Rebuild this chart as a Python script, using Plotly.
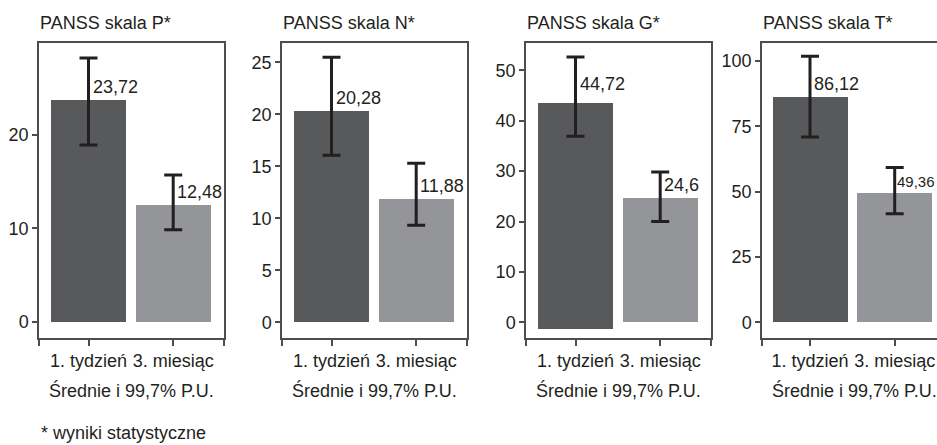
import plotly.graph_objects as go

# ---------------- data ----------------
titles = ["PANSS skala P*", "PANSS skala N*", "PANSS skala G*", "PANSS skala T*"]
categories = ["1. tydzień", "3. miesiąc"]
axis_title = "Średnie i 99,7% P.U."
footnote = "* wyniki statystyczne"

means_P = [23.72, 12.48]
means_N = [20.28, 11.88]
means_G = [44.72, 24.6]
means_T = [86.12, 49.36]

ci_low_P = [18.9, 9.85]
ci_high_P = [28.2, 15.7]
ci_low_N = [16.06, 9.33]
ci_high_N = [25.5, 15.3]
ci_low_G = [36.9, 20.0]
ci_high_G = [52.6, 29.8]
ci_low_T = [70.9, 41.6]
ci_high_T = [101.8, 59.3]

yticks_P = [0, 10, 20]
yticks_N = [0, 5, 10, 15, 20, 25]
yticks_G = [0, 10, 20, 30, 40, 50]
yticks_T = [0, 25, 50, 75, 100]

means = [means_P, means_N, means_G, means_T]
ci_low = [ci_low_P, ci_low_N, ci_low_G, ci_low_T]
ci_high = [ci_high_P, ci_high_N, ci_high_G, ci_high_T]
yticks = [yticks_P, yticks_N, yticks_G, yticks_T]

# ---------------- style / layout ----------------
W, H = 937, 445
FONT = "Liberation Sans, Arial, sans-serif"
TXT = "#231f20"
LINE = "#4d4d4f"
DARK = "#58595b"
LIGHT = "#939598"
FS = 18

box_left = [39, 282, 526, 762]
box_w = 185
top_px, bot_px = 43, 338
# pixels per category unit and left-edge offset (in px) of category 0
ppu = [84.7, 84.7, 84.7, 84.7]
first_off = [49.5, 49.5, 49.5, 48.0]
bar_px = 75
yranges = [[-1.7, 29.8], [-1.51, 26.86], [-3.1, 55.4], [-5.98, 106.9]]
bar_base = [[0, 0], [0, 0], [-1.25, 0], [0, 0]]  # offset seen in the original G panel
label_size = [[FS, FS], [FS, FS], [FS, FS], [FS, 15]]

fig = go.Figure()
annotations = []
pos = [0, 1]

for i in range(4):
    ax = "" if i == 0 else str(i + 1)
    xa, ya = "x" + ax, "y" + ax
    left = box_left[i]
    right = min(left + box_w, W)
    xr0 = -first_off[i] / ppu[i]
    x_end = xr0 + (right - left) / ppu[i]
    x_full_end = xr0 + box_w / ppu[i]

    fig.add_trace(go.Bar(
        x=pos, y=means[i], base=bar_base[i], width=bar_px / ppu[i],
        marker=dict(color=[DARK, LIGHT], line=dict(width=0)),
        xaxis=xa, yaxis=ya, hoverinfo="skip", showlegend=False,
    ))
    fig.add_trace(go.Scatter(
        x=pos, y=means[i], mode="markers",
        marker=dict(size=1, color="rgba(0,0,0,0)"),
        error_y=dict(type="data", symmetric=False,
                     array=[h - m for h, m in zip(ci_high[i], means[i])],
                     arrayminus=[m - l for m, l in zip(means[i], ci_low[i])],
                     color=TXT, thickness=3, width=9),
        xaxis=xa, yaxis=ya, hoverinfo="skip", showlegend=False,
    ))

    xkey = "xaxis" + ax
    ykey = "yaxis" + ax
    tv = [xr0, 0, 1]
    tt = ["", categories[0], categories[1]]
    if right == left + box_w:
        tv.append(x_end)
        tt.append("")
    fig.update_layout(**{
        xkey: dict(domain=[left / W, right / W], range=[xr0, x_end], anchor=ya,
                   tickvals=tv, ticktext=tt, tickangle=0, ticks="outside", ticklen=6,
                   tickwidth=1.5, tickcolor=LINE, showline=True, linecolor=LINE,
                   linewidth=1.5, mirror=True, showgrid=False, zeroline=False,
                   tickfont=dict(family=FONT, size=FS, color=TXT), fixedrange=True),
        ykey: dict(domain=[1 - bot_px / H, 1 - top_px / H], range=yranges[i], anchor=xa,
                   tickvals=yticks[i], ticks="outside", ticklen=5, tickwidth=1.5,
                   tickcolor=LINE, showline=True, linecolor=LINE, linewidth=1.5,
                   mirror=(i < 3), showgrid=False, zeroline=False,
                   tickfont=dict(family=FONT, size=FS, color=TXT), fixedrange=True),
    })

    # value labels
    for j in range(2):
        annotations.append(dict(
            x=pos[j], y=means[i][j], xref=xa, yref=ya,
            text=str(means[i][j]).replace(".", ","), showarrow=False,
            xanchor="left", yanchor="bottom", xshift=2 if label_size[i][j] == FS else 0,
            yshift=1,
            font=dict(family=FONT, size=label_size[i][j], color=TXT)))
    # panel title
    annotations.append(dict(
        x=left / W, y=1 - 23 / H, xref="paper", yref="paper", text=titles[i],
        showarrow=False, xanchor="left", yanchor="middle", xshift=-1,
        font=dict(family=FONT, size=FS, color=TXT)))
    # axis title (centred under the full panel box)
    annotations.append(dict(
        x=(xr0 + x_full_end) / 2, y=1 - 390 / H, xref=xa, yref="paper", text=axis_title,
        showarrow=False, xanchor="center", yanchor="middle",
        font=dict(family=FONT, size=FS, color=TXT)))

annotations.append(dict(
    x=39 / W, y=1 - 433 / H, xref="paper", yref="paper", text=footnote,
    showarrow=False, xanchor="left", yanchor="middle",
    font=dict(family=FONT, size=FS, color=TXT)))

fig.update_layout(
    width=W, height=H, margin=dict(l=0, r=0, t=0, b=0),
    paper_bgcolor="white", plot_bgcolor="white", showlegend=False,
    bargap=0, annotations=annotations,
    font=dict(family=FONT, size=FS, color=TXT),
)

fig.write_html("out.html")
